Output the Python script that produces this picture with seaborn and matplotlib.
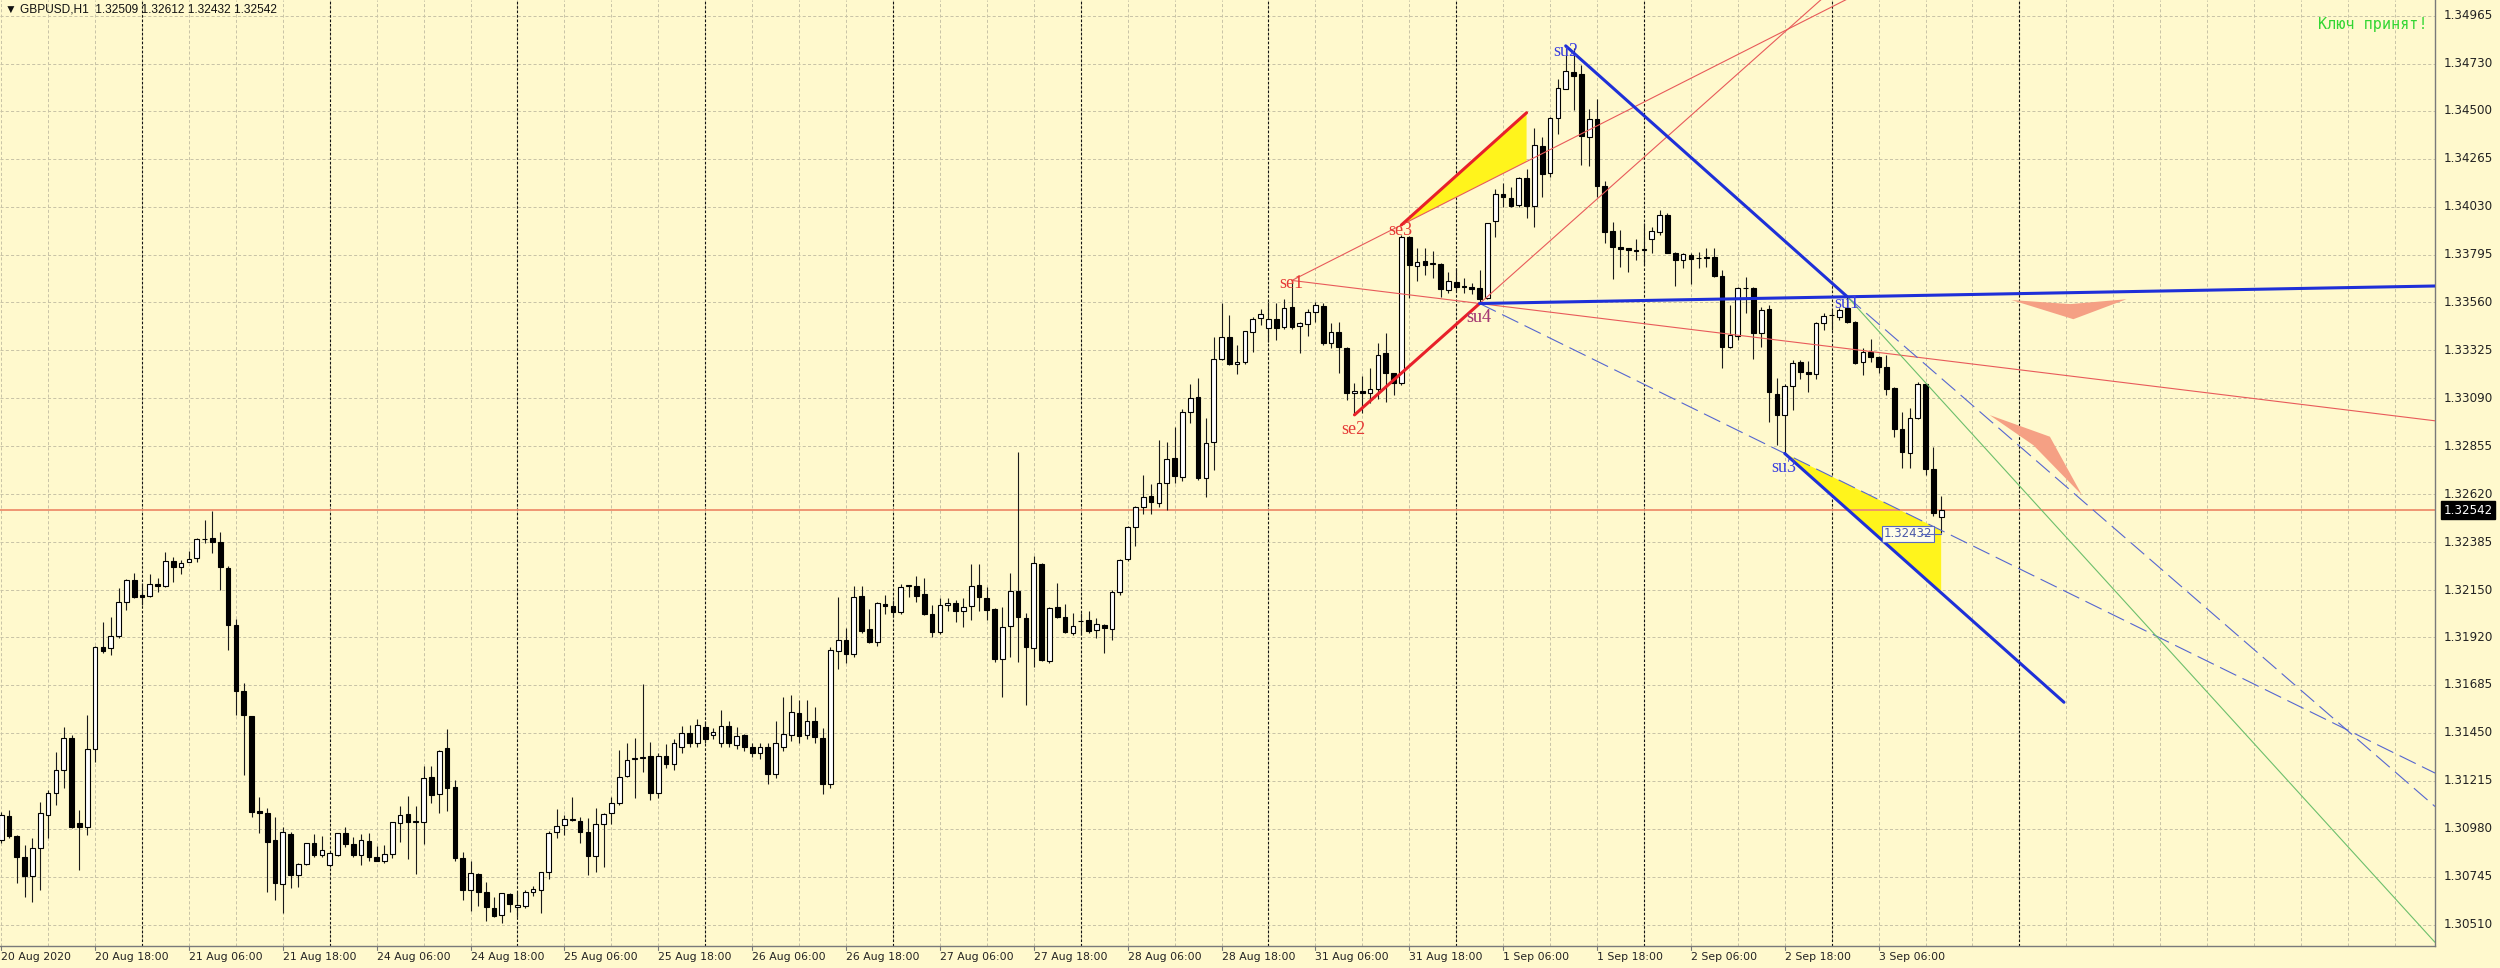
import numpy as np
import matplotlib
matplotlib.use("Agg")
import matplotlib.pyplot as plt
import seaborn as sns

# GBPUSD H1 candles, bar 0 = 20 Aug 2020 06:00
opens = [
    1.30925, 1.31043, 1.30945, 1.30843, 1.30749, 1.30884, 1.31048, 1.31154, 1.31268, 1.31424,
    1.31007, 1.30991, 1.31370, 1.31873, 1.31865, 1.31925, 1.32094, 1.32200, 1.32126, 1.32121,
    1.32180, 1.32170, 1.32295, 1.32262, 1.32290, 1.32309, 1.32399, 1.32404, 1.32388, 1.32257,
    1.31979, 1.31657, 1.31533, 1.31067, 1.31056, 1.30925, 1.30710, 1.30953, 1.30754, 1.30808,
    1.30909, 1.30852, 1.30803, 1.30852, 1.30961, 1.30906, 1.30852, 1.30920, 1.30844, 1.30820,
    1.30857, 1.31007, 1.31053, 1.31014, 1.31015, 1.31233, 1.31149, 1.31375, 1.31187, 1.30839,
    1.30680, 1.30757, 1.30672, 1.30594, 1.30558, 1.30661, 1.30595, 1.30602, 1.30669, 1.30680,
    1.30767, 1.30966, 1.30999, 1.31023, 1.31020, 1.30963, 1.30849, 1.31002, 1.31056, 1.31105,
    1.31239, 1.31324, 1.31327, 1.31337, 1.31154, 1.31337, 1.31300, 1.31380, 1.31451, 1.31400,
    1.31477, 1.31440, 1.31400, 1.31484, 1.31390, 1.31440, 1.31380, 1.31350, 1.31380, 1.31250,
    1.31380, 1.31440, 1.31549, 1.31440, 1.31508, 1.31427, 1.31200, 1.31852, 1.31906, 1.31835,
    1.32123, 1.31959, 1.31897, 1.32080, 1.32072, 1.32044, 1.32170, 1.32170, 1.32129, 1.32033,
    1.31943, 1.32077, 1.32085, 1.32048, 1.32072, 1.32175, 1.32113, 1.32056, 1.31811, 1.31974,
    1.32147, 1.32011, 1.31864, 1.32278, 1.31804, 1.32065, 1.32016, 1.31941, 1.31998, 1.32003,
    1.31954, 1.31979, 1.31958, 1.32142, 1.32301, 1.32461, 1.32556, 1.32611, 1.32578, 1.32677,
    1.32796, 1.32706, 1.33025, 1.33095, 1.32698, 1.32878, 1.33281, 1.33392, 1.33257, 1.33266,
    1.33417, 1.33482, 1.33436, 1.33477, 1.33438, 1.33536, 1.33444, 1.33453, 1.33511, 1.33543,
    1.33363, 1.33417, 1.33335, 1.33115, 1.33126, 1.33115, 1.33135, 1.33311, 1.33213, 1.33164,
    1.33880, 1.33741, 1.33764, 1.33749, 1.33749, 1.33621, 1.33662, 1.33643, 1.33638, 1.33630,
    1.33581, 1.33960, 1.34092, 1.34071, 1.34038, 1.34171, 1.34033, 1.34327, 1.34193, 1.34463,
    1.34605, 1.34692, 1.34679, 1.34373, 1.34458, 1.34133, 1.33911, 1.33834, 1.33826, 1.33818,
    1.33818, 1.33869, 1.33907, 1.33988, 1.33801, 1.33768, 1.33792, 1.33776, 1.33776, 1.33784,
    1.33690, 1.33343, 1.33397, 1.33629, 1.33629, 1.33408, 1.33526, 1.33109, 1.33008, 1.33152,
    1.33270, 1.33220, 1.33209, 1.33461, 1.33498, 1.33490, 1.33531, 1.33466, 1.33270, 1.33319,
    1.33294, 1.33242, 1.33139, 1.32938, 1.32823, 1.32992, 1.33160, 1.32746, 1.32509,
]
highs = [
    1.31064, 1.31072, 1.30950, 1.30901, 1.30933, 1.31113, 1.31170, 1.31358, 1.31481, 1.31440,
    1.31072, 1.31538, 1.31876, 1.31996, 1.32020, 1.32159, 1.32203, 1.32232, 1.32183, 1.32229,
    1.32208, 1.32339, 1.32314, 1.32298, 1.32342, 1.32404, 1.32494, 1.32540, 1.32437, 1.32268,
    1.32007, 1.31697, 1.31535, 1.31138, 1.31081, 1.31040, 1.30991, 1.30966, 1.30811, 1.30912,
    1.30955, 1.30945, 1.30868, 1.30961, 1.30991, 1.30939, 1.30955, 1.30958, 1.30896, 1.30901,
    1.31015, 1.31092, 1.31141, 1.31092, 1.31290, 1.31288, 1.31367, 1.31468, 1.31220, 1.30868,
    1.30820, 1.30762, 1.30721, 1.30648, 1.30667, 1.30664, 1.30672, 1.30680, 1.30700, 1.30770,
    1.30971, 1.31076, 1.31048, 1.31135, 1.31036, 1.31035, 1.31084, 1.31059, 1.31135, 1.31367,
    1.31402, 1.31424, 1.31689, 1.31407, 1.31350, 1.31395, 1.31420, 1.31484, 1.31489, 1.31520,
    1.31510, 1.31473, 1.31563, 1.31508, 1.31477, 1.31445, 1.31400, 1.31400, 1.31400, 1.31508,
    1.31628, 1.31636, 1.31611, 1.31611, 1.31579, 1.31473, 1.31870, 1.32115, 1.31963, 1.32172,
    1.32172, 1.32055, 1.32093, 1.32124, 1.32102, 1.32180, 1.32175, 1.32219, 1.32211, 1.32077,
    1.32110, 1.32110, 1.32102, 1.32113, 1.32278, 1.32277, 1.32167, 1.32060, 1.32069, 1.32232,
    1.32827, 1.32040, 1.32319, 1.32281, 1.32065, 1.32186, 1.32080, 1.32036, 1.32039, 1.32049,
    1.32011, 1.31984, 1.32150, 1.32301, 1.32464, 1.32562, 1.32714, 1.32668, 1.32886, 1.32874,
    1.32948, 1.33036, 1.33159, 1.33191, 1.32995, 1.33392, 1.33556, 1.33498, 1.33351, 1.33420,
    1.33490, 1.33526, 1.33564, 1.33556, 1.33575, 1.33670, 1.33466, 1.33526, 1.33564, 1.33556,
    1.33458, 1.33463, 1.33344, 1.33164, 1.33200, 1.33237, 1.33363, 1.33412, 1.33215, 1.33891,
    1.33886, 1.33826, 1.33826, 1.33814, 1.33752, 1.33711, 1.33728, 1.33679, 1.33654, 1.33720,
    1.33950, 1.34115, 1.34144, 1.34128, 1.34177, 1.34213, 1.34414, 1.34373, 1.34468, 1.34656,
    1.34818, 1.34806, 1.34724, 1.34507, 1.34556, 1.34157, 1.33956, 1.33916, 1.33828, 1.33871,
    1.33952, 1.33931, 1.34013, 1.33997, 1.33809, 1.33804, 1.33804, 1.33809, 1.33825, 1.33825,
    1.33719, 1.33547, 1.33637, 1.33686, 1.33637, 1.33539, 1.33547, 1.33188, 1.33160, 1.33278,
    1.33278, 1.33273, 1.33466, 1.33510, 1.33523, 1.33531, 1.33588, 1.33468, 1.33335, 1.33379,
    1.33297, 1.33302, 1.33147, 1.33024, 1.33041, 1.33171, 1.33167, 1.32853, 1.32612,
]
lows = [
    1.30909, 1.30933, 1.30713, 1.30648, 1.30623, 1.30680, 1.30933, 1.31097, 1.31179, 1.30982,
    1.30778, 1.30950, 1.31309, 1.31840, 1.31832, 1.31914, 1.32053, 1.32110, 1.32077, 1.32115,
    1.32143, 1.32167, 1.32192, 1.32228, 1.32288, 1.32290, 1.32380, 1.32334, 1.32151, 1.31857,
    1.31538, 1.31244, 1.31040, 1.30958, 1.30672, 1.30631, 1.30569, 1.30689, 1.30697, 1.30803,
    1.30843, 1.30840, 1.30795, 1.30847, 1.30890, 1.30844, 1.30803, 1.30823, 1.30820, 1.30814,
    1.30839, 1.30917, 1.30831, 1.30757, 1.30906, 1.31105, 1.31056, 1.31068, 1.30823, 1.30631,
    1.30579, 1.30602, 1.30528, 1.30546, 1.30517, 1.30574, 1.30550, 1.30590, 1.30651, 1.30566,
    1.30733, 1.30934, 1.30950, 1.31020, 1.30909, 1.30754, 1.30770, 1.30791, 1.31004, 1.31097,
    1.31236, 1.31130, 1.31260, 1.31121, 1.31130, 1.31280, 1.31270, 1.31350, 1.31380, 1.31380,
    1.31400, 1.31420, 1.31380, 1.31380, 1.31370, 1.31360, 1.31330, 1.31320, 1.31200, 1.31230,
    1.31360, 1.31410, 1.31400, 1.31420, 1.31400, 1.31150, 1.31180, 1.31762, 1.31791, 1.31821,
    1.31941, 1.31893, 1.31878, 1.32031, 1.32017, 1.32031, 1.32118, 1.32090, 1.32028, 1.31919,
    1.31935, 1.32049, 1.31995, 1.31968, 1.32004, 1.32049, 1.32004, 1.31799, 1.31624, 1.31824,
    1.31799, 1.31587, 1.31775, 1.31804, 1.31794, 1.32011, 1.31938, 1.31930, 1.31930, 1.31938,
    1.31913, 1.31843, 1.31905, 1.32126, 1.32294, 1.32366, 1.32523, 1.32523, 1.32556, 1.32543,
    1.32677, 1.32686, 1.32971, 1.32690, 1.32608, 1.32739, 1.33278, 1.33253, 1.33208, 1.33258,
    1.33319, 1.33449, 1.33368, 1.33376, 1.33428, 1.33428, 1.33310, 1.33395, 1.33466, 1.33352,
    1.33335, 1.33213, 1.33082, 1.33009, 1.33017, 1.33066, 1.33086, 1.33074, 1.33107, 1.33156,
    1.33584, 1.33667, 1.33695, 1.33679, 1.33589, 1.33605, 1.33618, 1.33605, 1.33602, 1.33564,
    1.33576, 1.33880, 1.34030, 1.34030, 1.34030, 1.33973, 1.33929, 1.34079, 1.34177, 1.34386,
    1.34605, 1.34504, 1.34234, 1.34229, 1.34079, 1.33850, 1.33674, 1.33736, 1.33711, 1.33769,
    1.33744, 1.33804, 1.33890, 1.33801, 1.33640, 1.33727, 1.33650, 1.33727, 1.33732, 1.33686,
    1.33237, 1.33335, 1.33376, 1.33506, 1.33283, 1.33343, 1.32975, 1.32861, 1.32823, 1.33033,
    1.33183, 1.33119, 1.33183, 1.33425, 1.33425, 1.33474, 1.33457, 1.33258, 1.33204, 1.33270,
    1.33212, 1.33106, 1.32902, 1.32751, 1.32751, 1.32987, 1.32714, 1.32512, 1.32432,
]
closes = [
    1.31048, 1.30945, 1.30843, 1.30749, 1.30884, 1.31056, 1.31154, 1.31268, 1.31424, 1.30991,
    1.30991, 1.31370, 1.31873, 1.31853, 1.31925, 1.32094, 1.32200, 1.32115, 1.32118, 1.32180,
    1.32170, 1.32295, 1.32262, 1.32285, 1.32303, 1.32399, 1.32401, 1.32388, 1.32262, 1.31979,
    1.31657, 1.31538, 1.31064, 1.31059, 1.30917, 1.30713, 1.30966, 1.30754, 1.30806, 1.30909,
    1.30852, 1.30876, 1.30860, 1.30958, 1.30906, 1.30852, 1.30925, 1.30844, 1.30824, 1.30855,
    1.31012, 1.31048, 1.31012, 1.31015, 1.31228, 1.31146, 1.31363, 1.31182, 1.30839, 1.30680,
    1.30762, 1.30672, 1.30599, 1.30553, 1.30664, 1.30610, 1.30607, 1.30672, 1.30684, 1.30767,
    1.30958, 1.30996, 1.31027, 1.31025, 1.30966, 1.30849, 1.31002, 1.31053, 1.31105, 1.31236,
    1.31318, 1.31326, 1.31329, 1.31154, 1.31337, 1.31300, 1.31400, 1.31451, 1.31400, 1.31489,
    1.31420, 1.31455, 1.31484, 1.31400, 1.31435, 1.31380, 1.31350, 1.31380, 1.31250, 1.31400,
    1.31445, 1.31551, 1.31435, 1.31510, 1.31432, 1.31200, 1.31857, 1.31906, 1.31835, 1.32118,
    1.31951, 1.31897, 1.32085, 1.32072, 1.32044, 1.32167, 1.32172, 1.32123, 1.32031, 1.31943,
    1.32076, 1.32085, 1.32049, 1.32066, 1.32172, 1.32118, 1.32052, 1.31811, 1.31971, 1.32147,
    1.32016, 1.31869, 1.32281, 1.31807, 1.32060, 1.32016, 1.31946, 1.31974, 1.32000, 1.31949,
    1.31982, 1.31963, 1.32142, 1.32297, 1.32461, 1.32556, 1.32605, 1.32580, 1.32673, 1.32793,
    1.32709, 1.33025, 1.33093, 1.32698, 1.32873, 1.33281, 1.33392, 1.33257, 1.33270, 1.33420,
    1.33477, 1.33502, 1.33477, 1.33436, 1.33534, 1.33441, 1.33458, 1.33515, 1.33547, 1.33360,
    1.33417, 1.33340, 1.33115, 1.33126, 1.33118, 1.33135, 1.33303, 1.33213, 1.33164, 1.33880,
    1.33742, 1.33760, 1.33742, 1.33751, 1.33626, 1.33666, 1.33638, 1.33634, 1.33625, 1.33576,
    1.33948, 1.34090, 1.34076, 1.34035, 1.34169, 1.34033, 1.34332, 1.34190, 1.34463, 1.34610,
    1.34697, 1.34671, 1.34376, 1.34458, 1.34131, 1.33907, 1.33831, 1.33822, 1.33818, 1.33813,
    1.33820, 1.33912, 1.33988, 1.33804, 1.33768, 1.33797, 1.33771, 1.33778, 1.33784, 1.33691,
    1.33343, 1.33400, 1.33629, 1.33631, 1.33408, 1.33523, 1.33119, 1.33008, 1.33152, 1.33265,
    1.33220, 1.33207, 1.33461, 1.33493, 1.33500, 1.33523, 1.33462, 1.33265, 1.33319, 1.33291,
    1.33245, 1.33134, 1.32938, 1.32828, 1.32992, 1.33160, 1.32746, 1.32526, 1.32542,
]

price_ticks = [1.34965, 1.34730, 1.34500, 1.34265, 1.34030, 1.33795, 1.33560, 1.33325,
               1.33090, 1.32855, 1.32620, 1.32385, 1.32150, 1.31920, 1.31685, 1.31450,
               1.31215, 1.30980, 1.30745, 1.30510]
date_bars = list(range(0, 241, 12))
date_labels = ["20 Aug 2020", "20 Aug 18:00", "21 Aug 06:00", "21 Aug 18:00",
               "24 Aug 06:00", "24 Aug 18:00", "25 Aug 06:00", "25 Aug 18:00",
               "26 Aug 06:00", "26 Aug 18:00", "27 Aug 06:00", "27 Aug 18:00",
               "28 Aug 06:00", "28 Aug 18:00", "31 Aug 06:00", "31 Aug 18:00",
               "1 Sep 06:00", "1 Sep 18:00", "2 Sep 06:00", "2 Sep 18:00", "3 Sep 06:00"]
separator_bars = list(range(18, 259, 24))   # midnights
last_price = 1.32542
low_mark = 1.32432

# pattern anchor points (bar, price)
se1 = (165, 1.33668)
se2 = (173, 1.33009)
se3 = (179, 1.33940)
su4 = (189, 1.33555)
su2 = (200, 1.34818)
su1 = (236, 1.33588)
su3 = (228, 1.32820)
se3_tip = (195, 1.34490)
su1_dash_pt = (280.2, 1.32118)
su1_green_pt = (270.9, 1.32118)
channel_end_bar = 263.7
fill_end_bar = 248
arrow_flat = [(257.0, 1.33572), (264.5, 1.33552), (271.7, 1.33576), (264.9, 1.33478)]
arrow_down = [(254.2, 1.33008), (261.9, 1.32902), (266.0, 1.32616), (259.8, 1.32860)]

point_labels = [("se1", 164.9, 1.33655, "#E53935"), ("se2", 172.9, 1.32935, "#E53935"),
                ("se3", 178.9, 1.33915, "#E53935"), ("su2", 200.0, 1.34789, "#3A3FE0"),
                ("su1", 235.9, 1.33553, "#3A3FE0"), ("su3", 227.9, 1.32752, "#3A3FE0")]

sns.set_theme(style="white")
plt.rcParams["lines.scale_dashes"] = False
plt.rcParams["font.family"] = ["DejaVu Sans"]

BG = "#FFF9CD"
XMIN, XMAX = -0.153, 311.13
YMIN, YMAX = 1.304055, 1.350427


def at(p1, p2, b):
    # price of the straight line through p1, p2 at bar b
    return p1[1] + (p2[1] - p1[1]) * (b - p1[0]) / (p2[0] - p1[0])


fig = plt.figure(figsize=(25, 9.68), dpi=100, facecolor=BG)
ax = fig.add_axes([0, 22 / 968, 2435 / 2500, 946 / 968])
ax.set_facecolor(BG)
ax.set_xlim(XMIN, XMAX)
ax.set_ylim(YMIN, YMAX)

# grid
for p in price_ticks:
    ax.axhline(p, color="#C8C3A6", lw=0.7, dashes=(2.2, 1.6), zorder=0)
for b in range(0, 312, 6):
    ax.axvline(b, color="#C8C3A6", lw=0.7, dashes=(2.2, 1.6), zorder=0)
for b in separator_bars:
    ax.axvline(b, color="#111111", lw=0.8, dashes=(1.8, 1.4), zorder=1)

# yellow fills
ax.fill([se3[0], se3_tip[0], se3_tip[0]],
        [se3[1], se3_tip[1], at(se1, se3, se3_tip[0])], color="#FFF41C", lw=0, zorder=1.5)
ax.fill([su3[0], fill_end_bar, fill_end_bar],
        [su3[1], at(su4, su3, fill_end_bar), su3[1] + (su1[1] - su2[1]) / (su1[0] - su2[0]) * (fill_end_bar - su3[0])],
        color="#FFF41C", lw=0, zorder=1.5)

# salmon arrows
for shape in (arrow_flat, arrow_down):
    ax.fill([s[0] for s in shape], [s[1] for s in shape], color="#F5A084", lw=0, zorder=1.5)

# candles
o = np.array(opens); h = np.array(highs); l = np.array(lows); c = np.array(closes)
x = np.arange(len(o))
up = c >= o
ax.vlines(x, l, h, color="#1A1A1A", lw=0.8, zorder=3)
bottom = np.minimum(o, c)
height = np.maximum(np.abs(c - o), 0.00003)
ax.bar(x[up], height[up], bottom=bottom[up], width=0.6, color="white",
       edgecolor="black", linewidth=0.8, zorder=4)
ax.bar(x[~up], height[~up], bottom=bottom[~up], width=0.6, color="black",
       edgecolor="black", linewidth=0.8, zorder=4)

# current price line
ax.axhline(last_price, color="#EE8E6C", lw=1.3, zorder=2)

# red construction
ax.plot([se1[0], XMAX], [se1[1], at(se1, su4, XMAX)], color="#E85A5A", lw=0.8, zorder=5)
ax.plot([se1[0], XMAX], [se1[1], at(se1, se3, XMAX)], color="#E85A5A", lw=0.8, zorder=5)
ax.plot([su4[0], XMAX], [su4[1], at(se2, su4, XMAX)], color="#E85A5A", lw=0.8, zorder=5)
ax.plot([se2[0], su4[0]], [se2[1], su4[1]], color="#E8202A", lw=2.2, zorder=6)
ax.plot([se3[0], se3_tip[0]], [se3[1], se3_tip[1]], color="#E8202A", lw=2.2, zorder=6)

# blue construction
slope = (su1[1] - su2[1]) / (su1[0] - su2[0])
ax.plot([su2[0], su1[0]], [su2[1], su1[1]], color="#1E30D8", lw=2.2, zorder=6)
ax.plot([su3[0], channel_end_bar], [su3[1], su3[1] + slope * (channel_end_bar - su3[0])],
        color="#1E30D8", lw=2.2, zorder=6)
ax.plot([su4[0], XMAX], [su4[1], at(su4, su1, XMAX)], color="#1E30D8", lw=2.2, zorder=6)
ax.plot([su4[0], XMAX], [su4[1], at(su4, su3, XMAX)], color="#5566D0", lw=0.8,
        dashes=(13, 5), zorder=5)
ax.plot([su1[0], XMAX], [su1[1], at(su1, su1_dash_pt, XMAX)], color="#5566D0", lw=0.8,
        dashes=(13, 5), zorder=5)
ax.plot([su1[0], XMAX], [su1[1], at(su1, su1_green_pt, XMAX)], color="#6CBF6C", lw=0.8, zorder=5)

# point labels
serif = ["Liberation Serif", "DejaVu Serif"]
for txt, bx, py, col in point_labels:
    ax.text(bx, py, txt, color=col, fontsize=13, family=serif, ha="center", va="center", zorder=7)
ax.text(188.9, 1.33484, "su4", color="#E53935", fontsize=13, family=serif, ha="center", va="center", zorder=7)
ax.text(188.9, 1.33484, "su4", color="#3A3FE0", alpha=0.4, fontsize=13, family=serif,
        ha="center", va="center", zorder=7)

# low price tag
ax.text(243.8, low_mark - 0.00006, f"{low_mark:.5f}", color="#4A58A8", fontsize=8.5,
        ha="center", va="center", zorder=8,
        bbox=dict(boxstyle="square,pad=0.15", facecolor="#FFFDE8", edgecolor="#5A6AC0", lw=0.8))
ax.plot([245.4, 248, 248], [low_mark - 0.00006, low_mark - 0.00006, low_mark], color="#5A6AC0",
        lw=0.8, zorder=8)

# axes frame
for side in ("top", "left"):
    ax.spines[side].set_visible(False)
for side in ("bottom", "right"):
    ax.spines[side].set_color("#7A7A7A")
    ax.spines[side].set_linewidth(1.0)
ax.set_xticks([])
ax.set_yticks([])

# price axis labels
ytr = ax.get_yaxis_transform()
for p in price_ticks:
    ax.text(1.0034, p, f"{p:.5f}", transform=ytr, fontsize=8.6, color="#222222",
            ha="left", va="center", clip_on=False)
ax.text(1.0034, last_price, f"{last_price:.5f}", transform=ytr, fontsize=8.6, color="white",
        ha="left", va="center", clip_on=False,
        bbox=dict(boxstyle="square,pad=0.2", facecolor="black", edgecolor="black"))

# time axis labels
xtr = ax.get_xaxis_transform()
narrow = ["Liberation Sans Narrow", "DejaVu Sans"]
for b, lab in zip(date_bars, date_labels):
    ax.text(b, -0.0118, lab, transform=xtr, fontsize=7.8, family=narrow, color="#222222",
            ha="left", va="center", clip_on=False)
    ax.plot([b, b], [0, -0.004], transform=xtr, color="#7A7A7A", lw=0.8, clip_on=False)

# header texts
ax.text(0.0021, 0.9895, "\u25BC GBPUSD,H1  1.32509 1.32612 1.32432 1.32542", transform=ax.transAxes,
        fontsize=8.6, family=["Liberation Sans", "DejaVu Sans"], color="#111111", ha="left", va="center")
ax.text(0.9971, 0.9745, "Ключ принят!", transform=ax.transAxes, fontsize=11,
        family=["DejaVu Sans Mono"], color="#33D633", ha="right", va="center")

fig.savefig("out.png", dpi=100, facecolor=BG)
